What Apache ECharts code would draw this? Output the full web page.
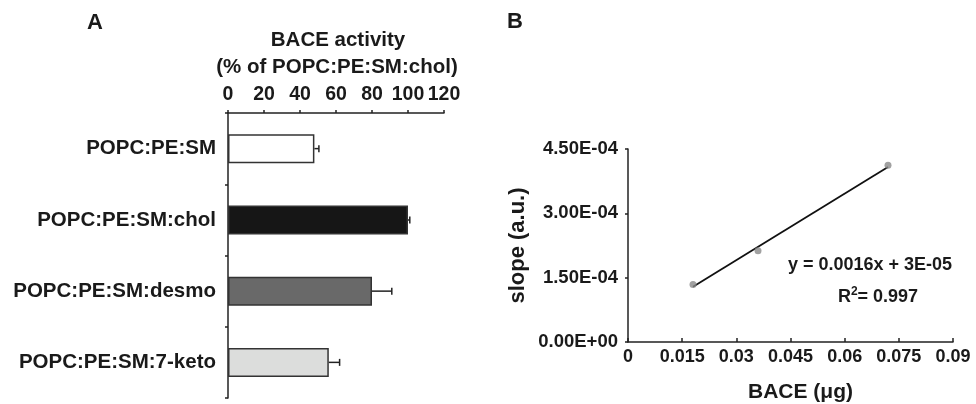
<!DOCTYPE html>
<html><head><meta charset="utf-8">
<script src="https://cdn.jsdelivr.net/npm/echarts@6/dist/echarts.min.js"></script>
<style>html,body{margin:0;padding:0;background:#fff}#c{width:976px;height:404px}</style>
</head><body><div id="c"></div><script>
// Panel A data
const categories = ['POPC:PE:SM', 'POPC:PE:SM:chol', 'POPC:PE:SM:desmo', 'POPC:PE:SM:7-keto'];
const activity = [48, 100, 80, 56];
const activityErr = [2.5, 1, 11, 6];
const barColors = ['#ffffff', '#161616', '#696969', '#dcdddc'];
const activityTicks = [0, 20, 40, 60, 80, 100, 120];
// Panel B data
const baceX = [0.018, 0.036, 0.072];
const slopeY = [1.34e-4, 2.13e-4, 4.12e-4];
const trendX = [0.018, 0.072];
const trendY = [1.29e-4, 4.08e-4];
const slopeTicks = [0, 1.5e-4, 3.0e-4, 4.5e-4];
const baceTicks = [0, 0.015, 0.03, 0.045, 0.06, 0.075, 0.09];
const eqText = 'y = 0.0016x + 3E-05';
const r2Value = '0.997';

const FONT = 'Liberation Sans, Arial, Helvetica, sans-serif';
const INK = '#1a1a1a';

function fmtE(v) {
  if (Math.abs(v) < 1e-12) return '0.00E+00';
  const s = v.toExponential(2);
  const parts = s.split('e');
  const e = parseInt(parts[1], 10);
  const sign = e < 0 ? '-' : '+';
  const d = Math.abs(e);
  return parts[0] + 'E' + sign + (d < 10 ? '0' : '') + d;
}
function fmtX(v) { return String(parseFloat(v.toFixed(3))); }

const axisLineStyle = { color: '#222', width: 1.5 };

const chart = echarts.init(document.getElementById('c'), null, { renderer: 'canvas' });
const option = {
  backgroundColor: '#fff',
  animation: false,
  textStyle: { fontFamily: FONT },
  grid: [
    { left: 228, top: 113, width: 216, height: 285 },
    { left: 628, top: 149, width: 325, height: 197 }
  ],
  xAxis: [
    {
      gridIndex: 0, type: 'value', position: 'top',
      min: activityTicks[0], max: activityTicks[activityTicks.length - 1],
      interval: activityTicks[1] - activityTicks[0],
      splitLine: { show: false },
      axisLine: { show: true, lineStyle: axisLineStyle },
      axisTick: { show: true, length: 3, lineStyle: axisLineStyle },
      axisLabel: { fontSize: 19.5, fontWeight: 'bold', color: INK, margin: 8, fontFamily: FONT }
    },
    {
      gridIndex: 1, type: 'value',
      min: baceTicks[0], max: baceTicks[baceTicks.length - 1],
      interval: baceTicks[1] - baceTicks[0],
      splitLine: { show: false },
      axisLine: { show: true, onZero: false, lineStyle: axisLineStyle },
      axisTick: { show: true, inside: true, length: 4, lineStyle: axisLineStyle },
      axisLabel: { fontSize: 18, fontWeight: 'bold', color: INK, margin: 6, fontFamily: FONT, formatter: fmtX },
      name: 'BACE (\u03bcg)', nameLocation: 'middle', nameGap: 40,
      nameTextStyle: { fontSize: 21, fontWeight: 'bold', color: INK, fontFamily: FONT, padding: [0, 0, 0, 20] }
    }
  ],
  yAxis: [
    {
      gridIndex: 0, type: 'category', data: categories, inverse: true,
      axisLine: { show: true, lineStyle: axisLineStyle },
      axisTick: { show: true, length: 3, lineStyle: axisLineStyle },
      axisLabel: { fontSize: 20.5, fontWeight: 'bold', color: INK, margin: 12, fontFamily: FONT }
    },
    {
      gridIndex: 1, type: 'value',
      min: slopeTicks[0], max: slopeTicks[slopeTicks.length - 1],
      interval: slopeTicks[1] - slopeTicks[0],
      splitLine: { show: false },
      axisLine: { show: true, onZero: false, lineStyle: axisLineStyle },
      axisTick: { show: true, length: 3, lineStyle: axisLineStyle },
      axisLabel: { fontSize: 18.5, fontWeight: 'bold', color: INK, margin: 10, fontFamily: FONT, formatter: fmtE },
      name: 'slope (a.u.)', nameLocation: 'middle', nameGap: 99, nameRotate: 90,
      nameTextStyle: { fontSize: 22, fontWeight: 'bold', color: INK, fontFamily: FONT }
    }
  ],
  series: [
    {
      type: 'bar', xAxisIndex: 0, yAxisIndex: 0, barWidth: 29,
      data: activity.map((v, i) => ({
        value: v,
        itemStyle: { color: barColors[i], borderColor: '#333', borderWidth: 1.5 }
      }))
    },
    {
      type: 'custom', xAxisIndex: 0, yAxisIndex: 0,
      data: activity.map((v, i) => [v, i, v + activityErr[i]]),
      renderItem: function (params, api) {
        const c = api.value(1);
        const p0 = api.coord([api.value(0), c]);
        const p1 = api.coord([api.value(2), c]);
        const st = { stroke: '#222', lineWidth: 1.5 };
        return {
          type: 'group',
          children: [
            { type: 'line', shape: { x1: p0[0], y1: p0[1], x2: p1[0], y2: p1[1] }, style: st },
            { type: 'line', shape: { x1: p1[0], y1: p1[1] - 3.5, x2: p1[0], y2: p1[1] + 3.5 }, style: st }
          ]
        };
      },
      z: 5
    },
    {
      type: 'line', xAxisIndex: 1, yAxisIndex: 1,
      data: trendX.map((x, i) => [x, trendY[i]]),
      showSymbol: false, symbol: 'none',
      lineStyle: { color: '#111', width: 1.8 }
    },
    {
      type: 'scatter', xAxisIndex: 1, yAxisIndex: 1,
      data: baceX.map((x, i) => [x, slopeY[i]]),
      symbol: 'circle', symbolSize: 7,
      itemStyle: { color: '#8a8a8a' }, z: 4
    }
  ],
  graphic: [
    { type: 'text', x: 95, y: 23, style: { text: 'A', font: 'bold 22px ' + FONT, fill: INK, align: 'center', verticalAlign: 'middle', textAlign: 'center', textVerticalAlign: 'middle' } },
    { type: 'text', x: 515, y: 22, style: { text: 'B', font: 'bold 22px ' + FONT, fill: INK, align: 'center', verticalAlign: 'middle', textAlign: 'center', textVerticalAlign: 'middle' } },
    { type: 'text', x: 338, y: 40, style: { text: 'BACE activity', font: 'bold 20.5px ' + FONT, fill: INK, align: 'center', verticalAlign: 'middle', textAlign: 'center', textVerticalAlign: 'middle' } },
    { type: 'text', x: 337, y: 67, style: { text: '(% of POPC:PE:SM:chol)', font: 'bold 20.5px ' + FONT, fill: INK, align: 'center', verticalAlign: 'middle', textAlign: 'center', textVerticalAlign: 'middle' } },
    { type: 'text', x: 870, y: 265, style: { text: eqText, font: 'bold 18px ' + FONT, fill: INK, align: 'center', verticalAlign: 'middle', textAlign: 'center', textVerticalAlign: 'middle' } },
    { type: 'text', x: 878, y: 296, style: {
        text: '{n|R}{s|2}{n|= ' + r2Value + '}', fill: INK, align: 'center', verticalAlign: 'middle', textAlign: 'center', textVerticalAlign: 'middle',
        rich: {
          n: { fontSize: 18, fontWeight: 'bold', fontFamily: FONT, lineHeight: 20, verticalAlign: 'bottom', fill: INK },
          s: { fontSize: 12, fontWeight: 'bold', fontFamily: FONT, lineHeight: 20, verticalAlign: 'top', fill: INK, padding: [0, 0, 6, 0] }
        }
      } }
  ]
};
chart.setOption(option);
</script></body></html>
